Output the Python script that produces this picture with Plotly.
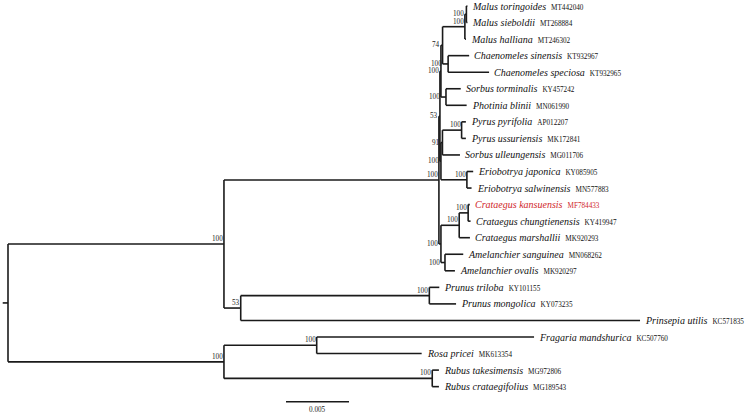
import plotly.graph_objects as go

# ---------------- data ----------------
# internal nodes (name, parent, branch length, bootstrap support)
node_names = ["root", "A", "ROS", "M", "P", "U", "L", "U1", "U2", "U1a", "U1b",
              "MAL", "MALi", "CHA", "U2a", "PYR", "ERI", "CR3", "CR2", "AME",
              "PRU", "FR", "RUB"]
node_parents = [None, "root", "root", "A", "A", "M", "M", "U", "U", "U1", "U1",
                "U1a", "MAL", "U1a", "U2", "U2a", "U2", "L", "CR3", "L",
                "P", "ROS", "ROS"]
node_branch = [0.00042, 0.01714, 0.01714, 0.01706, 0.00133, 0.00008, 0.00016,
               0.00008, 0.00008, 0.00013, 0.00040, 0.00177, 0.00012, 0.00044,
               0.00012, 0.00152, 0.00206, 0.00145, 0.00071, 0.00032,
               0.01497, 0.00736, 0.01653]
node_support = [None, 100, 100, 100, 53, 53, 100, 100, 100, 74, 100,
                100, 100, 100, 91, 100, 100, 100, 100, 100,
                100, 100, 100]

# leaves (top to bottom)
leaf_species = ["Malus toringoides", "Malus sieboldii", "Malus halliana",
                "Chaenomeles sinensis", "Chaenomeles speciosa", "Sorbus torminalis",
                "Photinia blinii", "Pyrus pyrifolia", "Pyrus ussuriensis",
                "Sorbus ulleungensis", "Eriobotrya japonica", "Eriobotrya salwinensis",
                "Crataegus kansuensis", "Crataegus chungtienensis", "Crataegus marshallii",
                "Amelanchier sanguinea", "Amelanchier ovalis", "Prunus triloba",
                "Prunus mongolica", "Prinsepia utilis", "Fragaria mandshurica",
                "Rosa pricei", "Rubus takesimensis", "Rubus crataegifolius"]
leaf_accessions = ["MT442040", "MT268884", "MT246302", "KT932967", "KT932965",
                   "KY457242", "MN061990", "AP012207", "MK172841", "MG011706",
                   "KY085905", "MN577883", "MF784433", "KY419947", "MK920293",
                   "MN068262", "MK920297", "KY101155", "KY073235", "KC571835",
                   "KC507760", "MK613354", "MG972806", "MG189543"]
leaf_parents = ["MALi", "MALi", "MAL", "CHA", "CHA", "U1b", "U1b", "PYR", "PYR",
                "U2a", "ERI", "ERI", "CR2", "CR2", "CR3", "AME", "AME", "PRU",
                "PRU", "P", "FR", "FR", "RUB", "RUB"]
leaf_branch = [0.00008, 0.00008, 0.00008, 0.00167, 0.00325, 0.00117, 0.00164,
               0.00034, 0.00034, 0.00139, 0.00050, 0.00037, 0.00013, 0.00019,
               0.00085, 0.00145, 0.00079, 0.00079, 0.00212, 0.03169, 0.01725,
               0.00833, 0.00053, 0.00053]
highlight_leaf = "Crataegus kansuensis"
scale_bar_value = 0.005

# ---------------- layout constants ----------------
W, H = 745, 414
px_per_unit = 63 / 0.005
root_px = 8
y0_px, dy_px = 6, 16.55
line_color = "#1a1a1a"
red = "#d0262a"

# ---------------- tree geometry ----------------
parent = dict(zip(node_names, node_parents))
blen = dict(zip(node_names, node_branch))
support = dict(zip(node_names, node_support))
for s, p, b in zip(leaf_species, leaf_parents, leaf_branch):
    parent[s] = p
    blen[s] = b
all_names = node_names + leaf_species
children = {n: [] for n in all_names}
for n in all_names:
    if parent[n] is not None:
        children[parent[n]].append(n)

depth = {}
def set_depth(n):
    depth[n] = 0.0 if parent[n] is None else depth[parent[n]] + blen[n]
    for c in children[n]:
        set_depth(c)
set_depth("root")

ypos = {s: i for i, s in enumerate(leaf_species)}
def set_y(n):
    if n in ypos:
        return ypos[n]
    ys = [set_y(c) for c in children[n]]
    ypos[n] = (ys[0] + ys[-1]) / 2
    return ypos[n]
set_y("root")

xs, ys = [], []
for n in all_names:
    x1 = depth[n]
    x0 = depth[parent[n]] if parent[n] is not None else -blen[n]
    xs += [x0, x1, None]
    ys += [ypos[n], ypos[n], None]
    if children[n]:
        xs += [x1, x1, None]
        ys += [ypos[children[n][0]], ypos[children[n][-1]], None]

fig = go.Figure()
fig.add_trace(go.Scatter(x=xs, y=ys, mode="lines",
                         line=dict(color=line_color, width=1.6),
                         hoverinfo="skip", showlegend=False))

sb_x0 = (286 - root_px) / px_per_unit
sb_y = (401.7 - y0_px) / dy_px
fig.add_trace(go.Scatter(x=[sb_x0, sb_x0 + scale_bar_value], y=[sb_y, sb_y],
                         mode="lines", line=dict(color=line_color, width=1.6),
                         hoverinfo="skip", showlegend=False))

ann = []
for s, acc in zip(leaf_species, leaf_accessions):
    col = red if s == highlight_leaf else "#111111"
    ann.append(dict(
        x=depth[s], y=ypos[s], xref="x", yref="y", xanchor="left", yanchor="middle",
        xshift=3, showarrow=False,
        text=f"<i>{s}</i>&nbsp; <span style='font-size:7.2px'>{acc}</span>",
        font=dict(family="Liberation Serif", size=10, color=col)))

for n in node_names:
    if support[n] is None:
        continue
    short = blen[n] * px_per_unit < 8
    ax = depth[parent[n]] if short else depth[n]
    ann.append(dict(
        x=ax, y=ypos[n], xref="x", yref="y", xanchor="right", yanchor="middle",
        xshift=0, yshift=0 if short else 5, showarrow=False, text=str(support[n]),
        borderpad=0,
        font=dict(family="Liberation Serif", size=7.2, color="#222222")))

ann.append(dict(x=sb_x0 + scale_bar_value / 2, y=sb_y, xref="x", yref="y",
                xanchor="center", yanchor="middle", yshift=-8, showarrow=False,
                text=str(scale_bar_value),
                font=dict(family="Liberation Serif", size=7.2, color="#222222")))

x_min = -root_px / px_per_unit
x_max = (W - root_px) / px_per_unit
y_top = -y0_px / dy_px
y_bot = (H - y0_px) / dy_px

fig.update_layout(
    width=W, height=H, margin=dict(l=0, r=0, t=0, b=0),
    paper_bgcolor="white", plot_bgcolor="white",
    xaxis=dict(range=[x_min, x_max], visible=False, fixedrange=True),
    yaxis=dict(range=[y_bot, y_top], visible=False, fixedrange=True),
    annotations=ann, showlegend=False,
)
fig.write_html("out.html", config={"displayModeBar": False},
               post_script="document.body.style.margin='0px';"
                           "document.body.style.overflow='hidden';")
